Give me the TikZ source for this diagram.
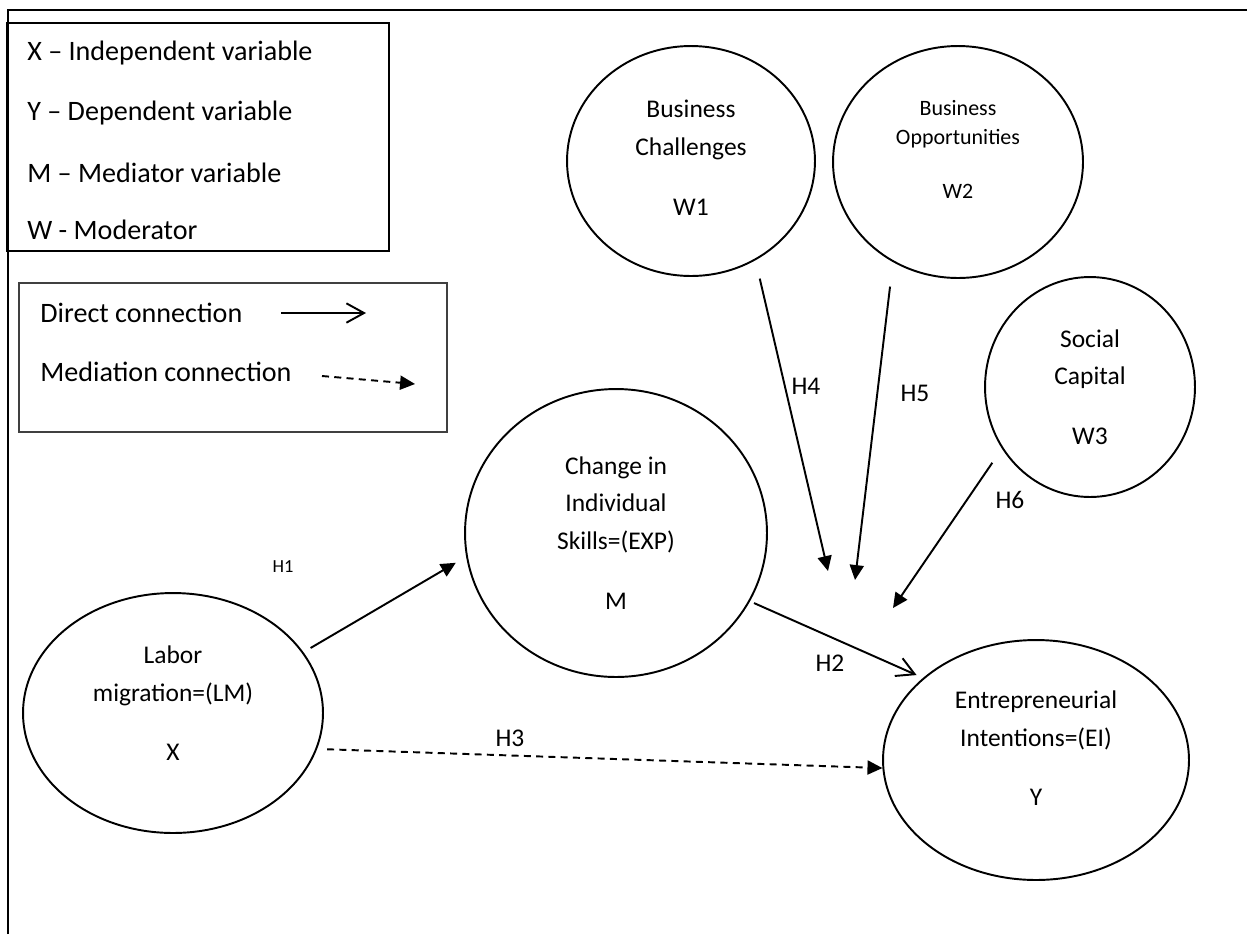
\documentclass[tikz,border=0pt]{standalone}
\usepackage{fontspec}
\setmainfont{Carlito}
\usetikzlibrary{shapes.geometric,arrows.meta,positioning}

\begin{document}
\begin{tikzpicture}[x=0.02cm,y=-0.02cm,>={Triangle[length=8.5pt,width=8pt]},
 var/.style={draw,ellipse,line width=1.1pt,inner sep=0pt,align=center,
   font=\fontsize{14.5}{21.5}\selectfont},
 direct/.style={line width=1.1pt,-{Straight Barb[length=10pt,width=11pt]}},
 mediat/.style={line width=1.1pt,dash pattern=on 4pt off 3pt,->},
 moder/.style={line width=1.1pt,->},
 hyp/.style={inner sep=0pt,font=\fontsize{14.5}{17}\selectfont},
 legend/.style={anchor=west,inner sep=0pt,font=\fontsize{16}{19}\selectfont}]
 \useasboundingbox (0,0) rectangle (1247,934);
 %\draw [help lines] (0,0) grid [step=50] (1247,934);
 \draw [line width=1.5pt] (8,934) -- (8,10) -- (1247,10);
 % legend
 \draw [line width=1.1pt] (7,23) rectangle (389,251);
 \node [legend] (lx) at (27,53) {X – Independent variable};
 \node [legend] (ly) at (27,113) {Y – Dependent variable};
 \node [legend] (lm) at (27,173) {M – Mediator variable};
 \node [legend] (lw) at (27,230) {W - Moderator};
 %
 \draw [line width=0.8pt, black!75] (19,283) rectangle (447,432);
 \node [legend] (ld) at (40,313) {Direct connection};
 \node [legend] (lmed) at (40,372) {Mediation connection};
 \coordinate (da) at (281,313);
 \coordinate (db) at (366,313);
 \coordinate (ma) at (322,376);
 \coordinate (mb) at (415,384);
 \draw [direct] (da) -- (db);
 \draw [mediat] (ma) -- (mb);
 % variables
 \node [var, minimum width=6cm, minimum height=4.8cm, text depth=11pt] (LM) at (173,713)
   {Labor\\migration=(LM)\\[12.5pt]X};
 \node [var, minimum width=6.04cm, minimum height=5.76cm] (EXP) at (616,533)
   {Change in\\Individual\\Skills=(EXP)\\[12.5pt]M};
 \node [var, minimum width=6.12cm, minimum height=4.8cm, text depth=13.5pt] (EI) at (1036,760)
   {Entrepreneurial\\Intentions=(EI)\\[12.5pt]Y};
 \node [var, minimum width=4.96cm, minimum height=4.6cm, text depth=3.5pt] (W1) at (691,161)
   {Business\\Challenges\\[12.5pt]W1};
 \node [var, minimum width=5cm, minimum height=4.64cm, text depth=14.5pt,
   font=\fontsize{12.5}{17}\selectfont] (W2) at (958,162)
   {Business\\Opportunities\\[13.5pt]W2};
 \node [var, minimum width=4.2cm, minimum height=4.4cm] (W3) at (1090,387)
   {Social\\Capital\\[12.5pt]W3};
 % paths
 \coordinate (t4) at (828,571);
 \coordinate (t5) at (855,580);
 \coordinate (t6) at (893,608);
 \draw [moder, shorten <=4.7pt, shorten >=6.8pt] (LM.25) -- (EXP.189);
 \draw [direct, shorten <=2.5pt, shorten >=4pt] (EXP.-27) -- (EI.144.5);
 \draw [mediat, shorten <=5.7pt] (LM.-14.7) -- (EI.183);
 \draw [moder, shorten <=10.7pt] (W1.-57.1) -- (t4);
 \draw [moder, shorten <=14pt] (W2.-123.9) -- (t5);
 \draw [moder, shorten <=9.7pt] (W3.-145.1) -- (t6);
 % labels
 \node [inner sep=0pt, font=\fontsize{10.5}{12}\selectfont] (h1) at (283,567) {H1};
 \node [hyp] (h2) at (830,663) {H2};
 \node [hyp] (h3) at (510,738) {H3};
 \node [hyp] (h4) at (806,386) {H4};
 \node [hyp] (h5) at (915,393) {H5};
 \node [hyp] (h6) at (1010,500) {H6};
\end{tikzpicture}
\end{document}
